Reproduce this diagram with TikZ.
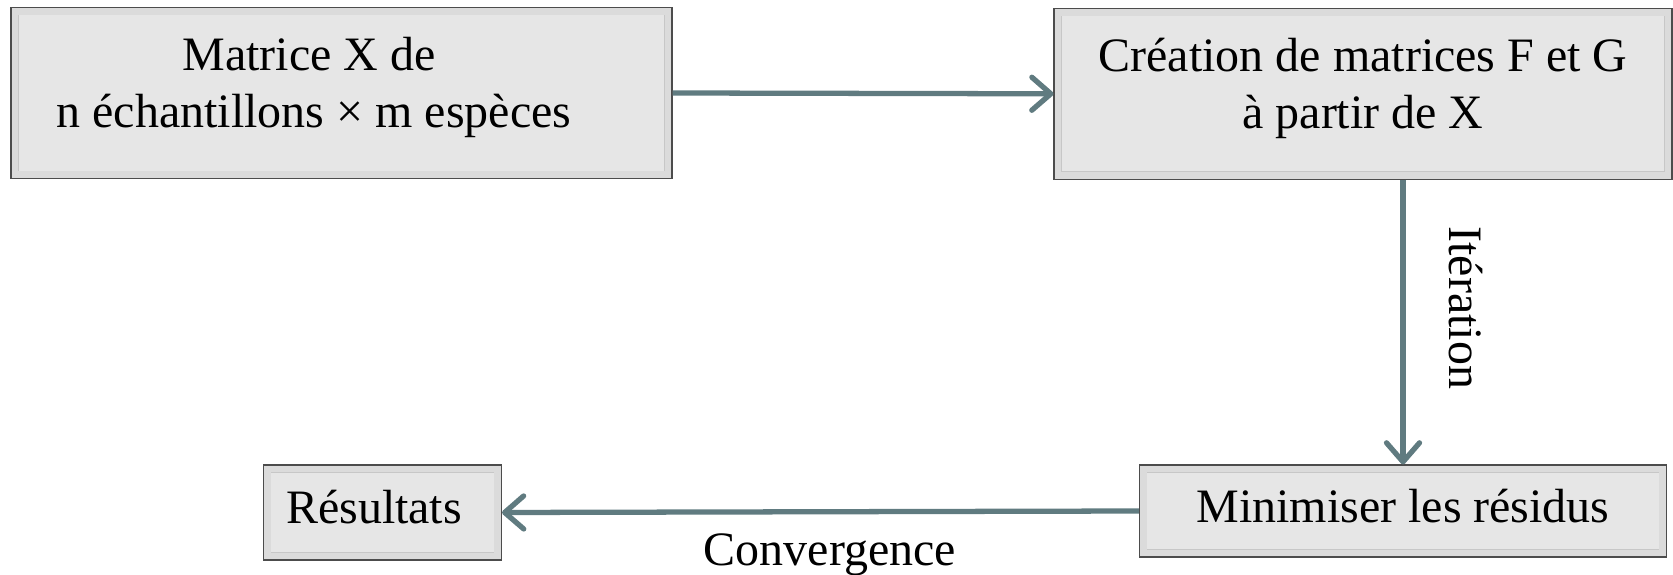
\documentclass[tikz,border=0pt]{standalone}
\usepackage{fontspec}
\setmainfont{Liberation Serif}
\usepackage{xcolor}
\usepackage{tikz}
\usetikzlibrary{positioning, calc, arrows.meta}

\definecolor{flowline}{RGB}{96,123,128}
\definecolor{boxfill}{RGB}{230,230,230}

\begin{document}
\begin{tikzpicture}[block/.style={
                rectangle,
                draw=black!70,
                line width=0.6pt,
                fill=boxfill,
                align=center,
                font=\fontsize{27.3}{32.5}\selectfont,
                path picture={
                    \draw[black!45, line width=4pt] (path picture bounding box.south west) rectangle (path picture bounding box.north east);
                    \draw[black!22, line width=9pt] (path picture bounding box.south west) rectangle (path picture bounding box.north east);
                    \draw[black!14, line width=4pt] ([shift={(2.25pt,2.25pt)}]path picture bounding box.south west) rectangle ([shift={(-2.25pt,-2.25pt)}]path picture bounding box.north east);
                },
        },
        flow/.style={
                draw=flowline,
                line width=3pt,
                -{Straight Barb[length=0.38cm, width=0.66cm, round]},
        },
        tag/.style={font=\fontsize{27.3}{32.5}\selectfont}]
            \useasboundingbox (0,0) rectangle (33.46,-11.5);
            \node[block, minimum width=13.22cm, minimum height=3.43cm, text depth=0.42cm] (matrice) at (6.83,-1.86) {Matrice X de\hspace*{1.3cm}\\n échantillons × m espèces\hspace*{1.1cm}};
            \node[block, minimum width=12.36cm, minimum height=3.41cm, text depth=0.42cm] (creation) at (27.26,-1.876) {Création de matrices F et G\\à partir de X};
            \node[block, minimum width=10.54cm, minimum height=1.84cm, text depth=0.22cm] (minimiser) at (28.06,-10.22) {Minimiser les résidus};
            \node[block, minimum width=4.76cm, minimum height=1.9cm, text depth=0.22cm] (resultats) at (7.65,-10.25) {Résultats\hspace*{0.34cm}};
            % connexions
            \draw[flow] (matrice.east) -- (creation.west);
            \draw[flow] (creation.south -| minimiser.north) -- node[tag, pos=0.45, sloped, above=0.75cm] {Itération} (minimiser.north);
            \draw[flow] (minimiser.west) -- node[tag, pos=0.485, below=0.27cm] {Convergence} (resultats.east);
        \end{tikzpicture}
\end{document}
